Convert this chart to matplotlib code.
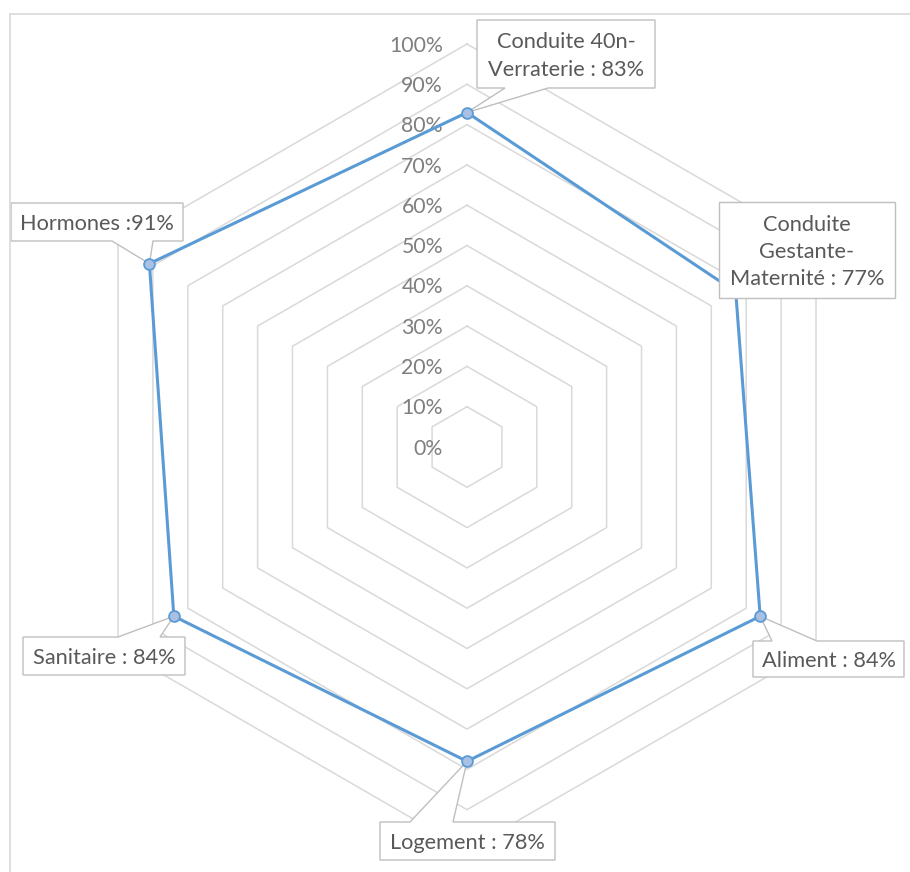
import numpy as np
import matplotlib.pyplot as plt
from matplotlib.lines import Line2D
from matplotlib.patches import Polygon

plt.rcParams["font.family"] = ["Lato", "DejaVu Sans"]

# data
categories = ["Conduite 40n-\nVerraterie", "Conduite\nGestante-\nMaternité",
              "Aliment", "Logement", "Sanitaire", "Hormones"]
values = [83, 77, 84, 78, 84, 91]
separators = [" : ", " : ", " : ", " : ", " : ", " :"]
tick_levels = [0, 10, 20, 30, 40, 50, 60, 70, 80, 90, 100]
tick_labels = [f"{t}%" for t in tick_levels]

# layout (figure pixels, origin top-left)
W, H = 910, 872
CX, CY = 467, 447          # centre of the radar
SCALE = 4.03               # pixels per percent
# box (left, top, right, bottom), wedge side, wedge base x0, x1
callouts = [
    ((477, 20, 655, 88), "bottom", 505, 548),
    ((719, 202, 895, 298), None, 0, 0),
    ((753, 641, 904, 677), "top", 772, 817),
    ((380, 822, 555, 860), "top", 410, 453),
    ((23, 637, 185, 675), "top", 118, 160),
    ((11, 203, 183, 241), "bottom", 112, 153),
]

GRID = "#d9d9d9"
LINE = "#5b9bd5"
TEXT = "#595959"


def px(x, y):
    return (x - CX) / SCALE, (CY - y) / SCALE


fig = plt.figure(figsize=(W / 100, H / 100), dpi=100)
ax = fig.add_axes([0, 0, 1, 1])
ax.set_xlim(px(0, 0)[0], px(W, 0)[0])
ax.set_ylim(px(0, H)[1], px(0, 0)[1])
ax.axis("off")

n = len(categories)
angles = np.deg2rad(90 - 60 * np.arange(n))
ring_angles = np.append(angles, angles[0])

# hexagonal grid
for lvl in tick_levels[1:]:
    ax.plot(lvl * np.cos(ring_angles), lvl * np.sin(ring_angles),
            color=GRID, lw=1.1, zorder=1)

# tick labels
for lvl, lab in zip(tick_levels, tick_labels):
    ax.text(px(443, 0)[0], lvl - 0.4, lab, ha="right", va="center",
            fontsize=15.3, color="#7f7f7f", zorder=2)

# series
vals = np.append(values, values[0])
xs = vals * np.cos(ring_angles)
ys = vals * np.sin(ring_angles)
ax.plot(xs, ys, color=LINE, lw=2.2, zorder=3)
ax.plot(xs[:-1], ys[:-1], "o", ms=7.8, mfc="#a9c0e3", mec=LINE, mew=1.3,
        zorder=5)

# callouts
for i, (cat, sep, val) in enumerate(zip(categories, separators, values)):
    (l, t, r, b), side, w0, w1 = callouts[i]
    tip = (xs[i], ys[i])
    pts = [px(l, t)]
    if side == "top":
        pts += [px(w0, t), tip, px(w1, t)]
    pts += [px(r, t), px(r, b)]
    if side == "bottom":
        pts += [px(w1, b), tip, px(w0, b)]
    pts += [px(l, b)]
    z = 4 if side else 6
    ax.add_patch(Polygon(pts, closed=True, fc="white", ec="#bfbfbf",
                         lw=1.0, zorder=z))
    cx, cy = px((l + r) / 2, (t + b) / 2 + 2)
    ax.text(cx, cy, f"{cat}{sep}{val}%", ha="center", va="center",
            multialignment="center", fontsize=15.7, color=TEXT,
            linespacing=1.45, zorder=z + 0.5)

# chart frame (cropped)
fig.add_artist(Line2D([10 / W, 10 / W], [0, 1 - 14 / H],
                      transform=fig.transFigure, color=GRID, lw=1.2))
fig.add_artist(Line2D([10 / W, 1], [1 - 14 / H, 1 - 14 / H],
                      transform=fig.transFigure, color=GRID, lw=1.2))

fig.savefig("out.png", dpi=100)
plt.close(fig)
